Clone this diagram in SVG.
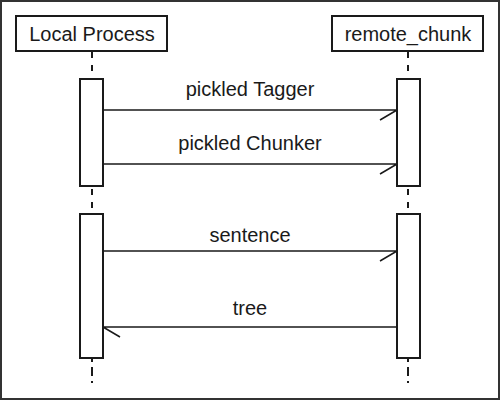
<svg xmlns="http://www.w3.org/2000/svg" width="500" height="400" viewBox="0 0 500 400">
<defs>
<style>
.frame{fill:#fff;stroke:#333;stroke-width:2}
.box{fill:#fff;stroke:#1a1a1a;stroke-width:2}
.life{stroke:#1a1a1a;stroke-width:2;stroke-dasharray:6 7;fill:none}
.tail{stroke-dasharray:4 5 9 5 2 10}
.msg{stroke:#1a1a1a;stroke-width:1.5;fill:none}
.lbl{font-family:"Liberation Sans",Arial,sans-serif;font-size:20px;fill:#1a1a1a;text-anchor:middle}
</style>
</defs>
<rect class="frame" x="1" y="1" width="498" height="398"/>
<g id="lifelines">
<line class="life" x1="92" y1="52" x2="92" y2="79"/>
<line class="life" x1="92" y1="189" x2="92" y2="214"/>
<line class="life tail" x1="92" y1="358" x2="92" y2="384"/>
<line class="life" x1="408" y1="52" x2="408" y2="79"/>
<line class="life" x1="408" y1="189" x2="408" y2="214"/>
<line class="life tail" x1="408" y1="358" x2="408" y2="384"/>
</g>
<g id="local-process">
<rect class="box" x="16" y="16" width="151" height="35"/>
<text class="lbl" x="92" y="41">Local Process</text>
</g>
<g id="remote-chunk">
<rect class="box" x="332" y="16" width="151" height="35"/>
<text class="lbl" x="408" y="41">remote_chunk</text>
</g>
<g id="local-activation-1"><rect class="box" x="80" y="79" width="23" height="107"/></g>
<g id="remote-activation-1"><rect class="box" x="397" y="79" width="23" height="107"/></g>
<g id="local-activation-2"><rect class="box" x="80" y="214" width="23" height="144"/></g>
<g id="remote-activation-2"><rect class="box" x="397" y="214" width="23" height="144"/></g>
<g id="connectors">
<path class="msg" d="M103 110H397M380 120L397 110"/>
<path class="msg" d="M103 164H397M380 174L397 164"/>
<path class="msg" d="M103 251H397M380 261L397 251"/>
<path class="msg" d="M397 327H103M120 337L103 327"/>
<text class="lbl" x="250" y="96">pickled Tagger</text>
<text class="lbl" x="250" y="150">pickled Chunker</text>
<text class="lbl" x="250" y="242">sentence</text>
<text class="lbl" x="250" y="315">tree</text>
</g>
</svg>
